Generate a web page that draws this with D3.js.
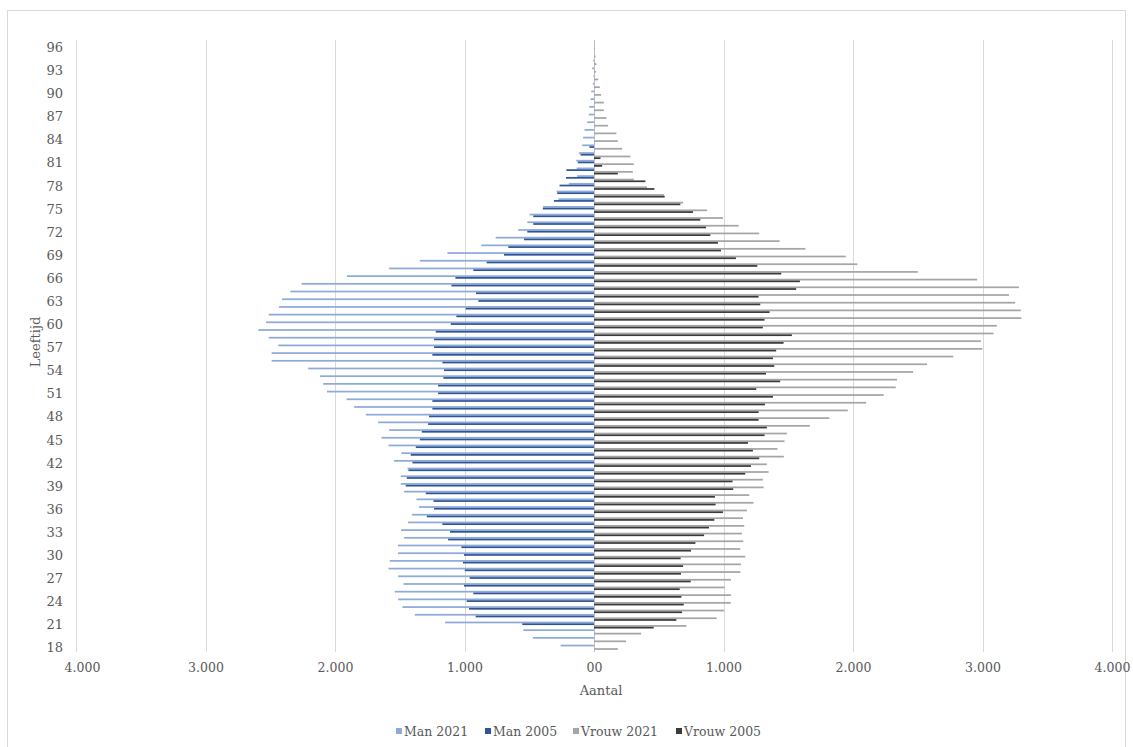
<!DOCTYPE html>
<html>
<head>
<meta charset="utf-8">
<script src="https://cdn.jsdelivr.net/npm/d3@7"></script>
<style>
body { margin: 0; background: #fff; }
text { font-family: "DejaVu Serif", serif; fill: #595959; }
</style>
</head>
<body>
<svg id="chart" width="1133" height="747"></svg>
<script>
// Age categories (bottom to top).
var ages = [18, 19, 20, 21, 22, 23, 24, 25, 26, 27, 28, 29, 30, 31, 32, 33, 34, 35, 36, 37,
    38, 39, 40, 41, 42, 43, 44, 45, 46, 47, 48, 49, 50, 51, 52, 53, 54, 55, 56, 57,
    58, 59, 60, 61, 62, 63, 64, 65, 66, 67, 68, 69, 70, 71, 72, 73, 74, 75, 76, 77,
    78, 79, 80, 81, 82, 83, 84, 85, 86, 87, 88, 89, 90, 91, 92, 93, 94, 95, 96];

// Counts per age, same order as ages. Men are drawn to the left.
var man2021 = [258, 472, 546, 1150, 1384, 1479, 1513, 1538, 1471, 1513, 1587, 1577, 1513, 1513, 1466, 1490, 1436, 1405, 1351, 1371,
    1466, 1492, 1492, 1440, 1544, 1487, 1587, 1641, 1582, 1667, 1762, 1852, 1911, 2062, 2091, 2116, 2207, 2489, 2489, 2438,
    2512, 2592, 2533, 2512, 2432, 2409, 2345, 2258, 1908, 1582, 1345, 1132, 870, 759, 585, 515, 497, 393, 274, 289,
    194, 130, 134, 137, 117, 91, 84, 73, 53, 40, 37, 27, 22, 9, 5, 14, 6, 0, 0];
var man2005 = [null, null, null, 554, 914, 965, 983, 932, 1004, 960, 998, 1012, 1004, 1024, 1127, 1112, 1171, 1291, 1235, 1240,
    1299, 1454, 1446, 1433, 1402, 1415, 1376, 1345, 1330, 1281, 1274, 1248, 1248, 1204, 1204, 1163, 1158, 1171, 1248, 1235,
    1235, 1222, 1106, 1063, 991, 893, 911, 1101, 1070, 932, 829, 695, 662, 541, 515, 469, 469, 395, 310, 284,
    266, 216, 213, 125, 104, 35, 0, 0, 0, 0, 0, 0, 0, 0, 0, 0, 0, 0, 0];
var vrouw2021 = [184, 248, 364, 713, 947, 1004, 1056, 1058, 1009, 1058, 1130, 1135, 1168, 1130, 1153, 1142, 1160, 1150, 1181, 1232,
    1199, 1310, 1304, 1348, 1335, 1466, 1417, 1471, 1489, 1667, 1818, 1960, 2101, 2237, 2330, 2340, 2464, 2571, 2774, 2998,
    2988, 3086, 3111, 3301, 3296, 3252, 3204, 3281, 2959, 2500, 2034, 1944, 1633, 1433, 1276, 1117, 996, 873, 688, 540,
    410, 307, 300, 307, 281, 217, 184, 173, 109, 96, 76, 76, 55, 45, 32, 15, 19, 12, 5];
var vrouw2005 = [null, null, null, 461, 636, 680, 693, 675, 662, 747, 672, 688, 669, 749, 783, 850, 888, 929, 996, 939,
    934, 1075, 1070, 1168, 1212, 1276, 1227, 1189, 1317, 1335, 1271, 1271, 1320, 1382, 1253, 1438, 1328, 1392, 1382, 1407,
    1464, 1528, 1304, 1317, 1356, 1284, 1271, 1561, 1590, 1446, 1261, 1096, 981, 957, 898, 865, 821, 765, 667, 546,
    466, 397, 184, 63, 50, 0, 0, 0, 0, 0, 0, 0, 0, 0, 0, 0, 0, 0, 0];

var seriesNames = ["Man 2021", "Man 2005", "Vrouw 2021", "Vrouw 2005"];
var seriesColors = ["#8eaadb", "#2f5597", "#a5a5a5", "#3a3a3a"];
var xTicks = [-4000, -3000, -2000, -1000, 0, 1000, 2000, 3000, 4000];
var yTicks = [18, 21, 24, 27, 30, 33, 36, 39, 42, 45, 48, 51, 54, 57, 60, 63, 66, 69, 72, 75, 78, 81, 84, 87, 90, 93, 96];

var svg = d3.select("#chart");
var plot = {left: 76, right: 1112, top: 44, bottom: 652};

// Outer chart border.
svg.append("rect")
    .attr("x", 7.5).attr("y", 10.5)
    .attr("width", 1118).attr("height", 745)
    .attr("fill", "none").attr("stroke", "#d9d9d9");

var x = d3.scaleLinear().domain([-4000, 4000]).range([plot.left, plot.right]);
var y = d3.scaleBand().domain(ages.slice().reverse()).range([plot.top, plot.bottom])
    .paddingInner(0.1).paddingOuter(0.05);
var sub = d3.scaleBand().domain(seriesNames).range([0, y.bandwidth()]);

// Vertical gridlines.
svg.append("g").selectAll("line").data(xTicks).enter().append("line")
    .attr("x1", function(d) { return Math.round(x(d)) + 0.5; })
    .attr("x2", function(d) { return Math.round(x(d)) + 0.5; })
    .attr("y1", plot.top - 4).attr("y2", plot.bottom)
    .attr("stroke", function(d) { return d == 0 ? "#bfbfbf" : "#d9d9d9"; })
    .attr("stroke-width", 1);

// Build rows: one per age and series.
var values = [man2021, man2005, vrouw2021, vrouw2005];
var rows = [];
ages.forEach(function(age, i) {
    seriesNames.forEach(function(name, s) {
        var v = values[s][i];
        if(v == null || v == 0) return;
        var sign = s < 2 ? -1 : 1;
        rows.push({age: age, series: name, color: seriesColors[s], value: sign * v});
    });
});

svg.append("g").selectAll("rect").data(rows).enter().append("rect")
    .attr("x", function(d) { return x(Math.min(0, d.value)); })
    .attr("width", function(d) { return Math.abs(x(d.value) - x(0)); })
    .attr("y", function(d) { return y(d.age) + sub(d.series); })
    .attr("height", sub.bandwidth())
    .attr("fill", function(d) { return d.color; });

// Y axis (ages).
var yAxis = d3.axisLeft(y).tickValues(yTicks).tickSize(0).tickPadding(0);
var gy = svg.append("g").attr("transform", "translate(" + 63 + ",0)").call(yAxis);
gy.select(".domain").remove();
gy.selectAll("text").style("font-size", "13px").attr("fill", "#595959")
    .style("font-family", "DejaVu Serif");

// X axis (counts), absolute values with dot as thousands separator.
var fmt = function(d) {
    if(d == 0) return "00";
    return d3.format(",")(Math.abs(d)).replace(/,/g, ".");
};
var xAxis = d3.axisBottom(x).tickValues(xTicks).tickFormat(fmt).tickSize(0).tickPadding(0);
var gx = svg.append("g").attr("transform", "translate(0," + 663 + ")").call(xAxis);
gx.select(".domain").remove();
gx.selectAll("text").style("font-size", "12.5px").attr("fill", "#595959")
    .style("font-family", "DejaVu Serif")
    .attr("dx", function(d) { return d == -4000 ? 6 : 0; });

// Axis titles.
svg.append("text")
    .attr("x", (plot.left + plot.right) / 2 + 7).attr("y", 695)
    .attr("text-anchor", "middle").style("font-size", "13px")
    .text("Aantal");
svg.append("text")
    .attr("transform", "translate(40," + 342 + ") rotate(-90)")
    .attr("text-anchor", "middle").style("font-size", "13px")
    .text("Leeftijd");

// Legend.
var legendX = [396, 485, 573, 676];
var legend = svg.append("g").selectAll("g").data(seriesNames).enter().append("g")
    .attr("transform", function(d, i) { return "translate(" + legendX[i] + "," + 731 + ")"; });
legend.append("rect")
    .attr("x", 0).attr("y", -3).attr("width", 6).attr("height", 6)
    .attr("fill", function(d, i) { return seriesColors[i]; });
legend.append("text")
    .attr("x", 8).attr("y", 4.5)
    .style("font-size", "12.5px")
    .text(function(d) { return d; });
</script>
</body>
</html>
